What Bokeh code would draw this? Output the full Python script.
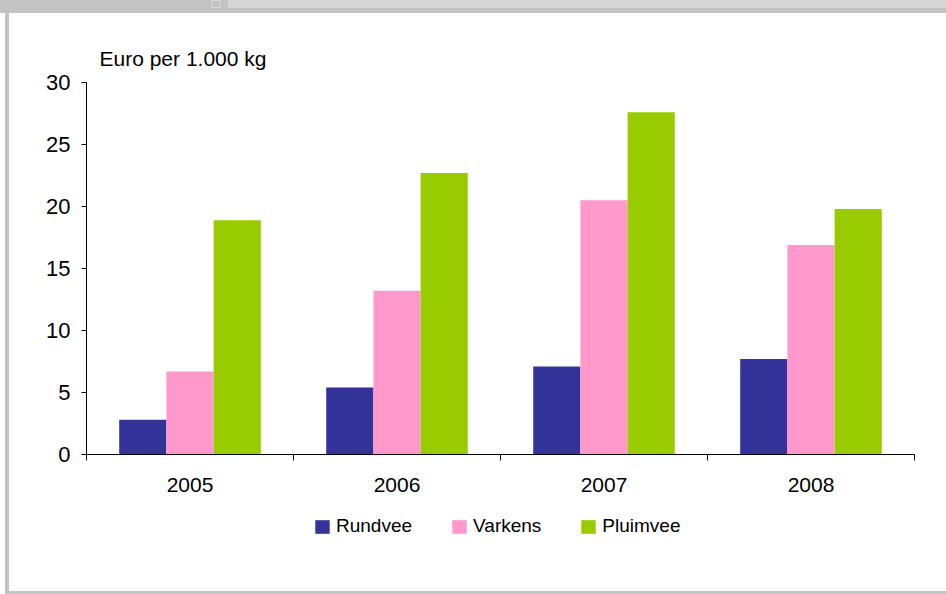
import numpy as np
from bokeh.plotting import figure
from bokeh.models import (ColumnDataSource, FixedTicker, Legend, LegendItem, Range1d, Title, Div)
from bokeh.layouts import column, row
from bokeh.transform import dodge
from bokeh.embed import file_html
from bokeh.resources import INLINE

years = ["2005", "2006", "2007", "2008"]
rundvee = [2.8, 5.4, 7.1, 7.7]
varkens = [6.7, 13.2, 20.5, 16.9]
pluimvee = [18.9, 22.7, 27.6, 19.8]
series_names = ["Rundvee", "Varkens", "Pluimvee"]
colors = ["#333399", "#FF99CC", "#99CC00"]
y_ticks = [0, 5, 10, 15, 20, 25, 30]
y_title = "Euro per 1.000 kg"

FONT = "Liberation Sans"
GRAY = "#c3c3c3"
LIGHT = "#d6d6d6"

xc = [i + 0.5 for i in range(len(years))]
src = ColumnDataSource(dict(x=xc, Rundvee=rundvee, Varkens=varkens, Pluimvee=pluimvee))

p = figure(width=937, height=487, output_backend="svg", toolbar_location=None,
           x_range=Range1d(0, len(years)), y_range=Range1d(0, 30),
           min_border_left=77, min_border_right=32, min_border_top=69, min_border_bottom=46)
p.outline_line_color = None
p.grid.visible = False
p.background_fill_color = "white"
p.border_fill_color = "white"

p.title = Title(text=y_title, align="left", offset=13, standoff=25,
                text_font=FONT, text_font_size="21px", text_font_style="normal",
                text_color="black")

bw = 0.228
for off, name, col in zip([-bw, 0.0, bw], series_names, colors):
    p.vbar(x=dodge("x", off), top=name, width=bw, source=src,
           fill_color=col, line_color=None)

# axes
xa = p.xaxis[0]
xa.ticker = FixedTicker(ticks=xc, minor_ticks=list(range(len(years) + 1)))
xa.major_label_overrides = {v: y for v, y in zip(xc, years)}
xa.major_tick_out = 0
xa.major_tick_in = 0
xa.minor_tick_out = 6
xa.minor_tick_in = 0
xa.minor_tick_line_color = "black"
xa.axis_line_color = "black"
xa.major_label_text_font = FONT
xa.major_label_text_font_size = "21px"
xa.major_label_text_color = "black"
xa.major_label_standoff = 17

ya = p.yaxis[0]
ya.ticker = FixedTicker(ticks=y_ticks)
ya.major_tick_out = 5
ya.major_tick_in = 0
ya.minor_tick_out = 0
ya.minor_tick_in = 0
ya.axis_line_color = "black"
ya.major_tick_line_color = "black"
ya.major_label_text_font = FONT
ya.major_label_text_font_size = "22px"
ya.major_label_text_color = "black"
ya.major_label_standoff = 11

# legend figure (swatches drawn from renderers placed outside its visible range)
p2 = figure(width=937, height=91, output_backend="svg", toolbar_location=None,
            x_range=Range1d(0, 1), y_range=Range1d(0, 1),
            x_axis_location=None, y_axis_location=None, min_border=0)
p2.outline_line_color = None
p2.grid.visible = False
p2.background_fill_color = "white"
p2.border_fill_color = "white"
leg_src = ColumnDataSource(dict(x=[-5.0], top=[-5.0]))
leg_renderers = [p2.vbar(x="x", top="top", width=0.1, source=leg_src, fill_color=c, line_color=None)
                 for c in colors]
legend = Legend(items=[LegendItem(label=n, renderers=[r]) for n, r in zip(series_names, leg_renderers)],
                orientation="horizontal", location=(227, 54),
                glyph_width=18, glyph_height=17, label_standoff=5, spacing=38,
                label_text_font=FONT, label_text_font_size="19px", label_text_color="black",
                border_line_color=None, background_fill_alpha=0, margin=0, padding=4)
p2.add_layout(legend, "center")

top_html = (
    '<div style="position:relative;width:946px;height:13px;background:%s;">'
    '<div style="position:absolute;left:0;top:0;width:228px;height:13px;background:%s;"></div>'
    '<div style="position:absolute;left:228px;top:8px;width:718px;height:5px;background:%s;"></div>'
    '<div style="position:absolute;left:211px;top:0;width:10px;height:8px;border:1px solid %s;"></div>'
    '</div>' % (LIGHT, GRAY, GRAY, LIGHT)
)
top_div = Div(text=top_html, width=946, height=13, margin=0)
left_div = Div(text="", width=4, height=578, margin=(0, 0, 0, 5), styles={"background-color": GRAY})
bottom_div = Div(text="", width=941, height=3, margin=(0, 0, 0, 5), styles={"background-color": GRAY})

layout = column(top_div, row(left_div, column(p, p2, spacing=0), spacing=0), bottom_div, spacing=0)

open("out.html", "w").write(file_html(layout, INLINE))
